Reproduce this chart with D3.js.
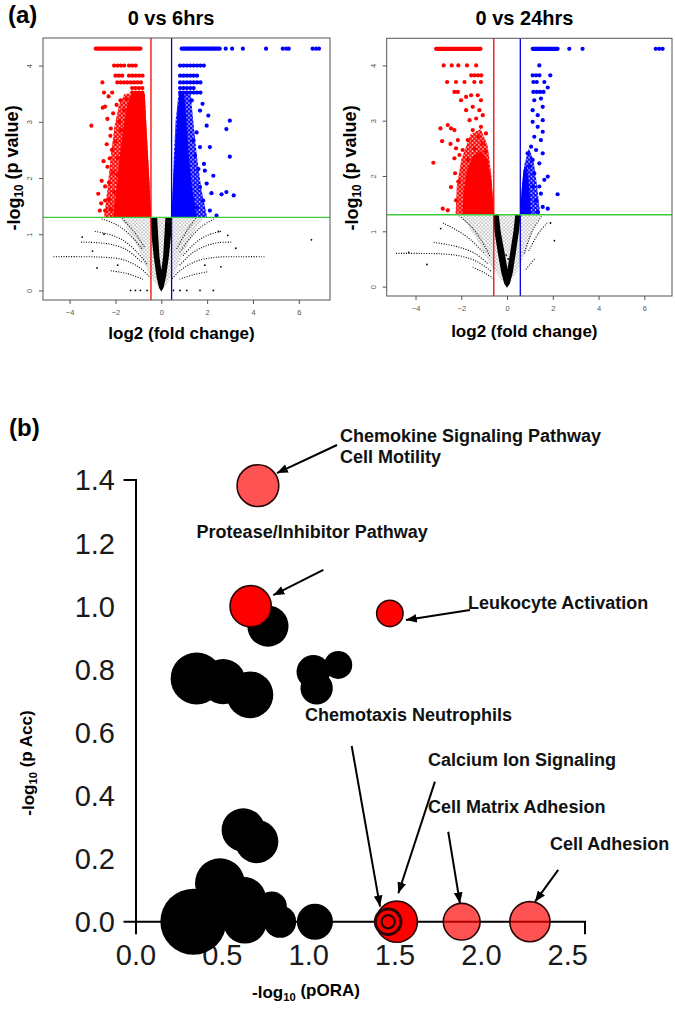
<!DOCTYPE html>
<html>
<head>
<meta charset="utf-8">
<script src="https://cdnjs.cloudflare.com/ajax/libs/d3/7.8.5/d3.min.js"></script>
<style>
  body { margin: 0; background: #fff; }
  svg { display: block; font-family: "Liberation Sans", Arial, sans-serif; }
</style>
</head>
<body>
<svg id="fig" width="675" height="1012"></svg>
<script>
// ---------- panel (a): volcano plots, values in (log2 FC, -log10 p) ----------
const pCut = 1.3;            // -log10(0.05)
const xTicksA = [-4, -2, 0, 2, 4, 6];
const yTicksA = [0, 1, 2, 3, 4];

// 0 vs 6hrs
const fc6 = 0.45;
const rows6 = [ // y, x from, x to, side
  [4.3, -2.86, -0.91, 'dn'], [4.3, 0.89, 2.55, 'up'],
  [4.0, -2.06, -1.56, 'dn'], [4.0, -1.41, -0.98, 'dn'], [4.0, 0.82, 1.9, 'up'],
  [3.82, -2.0, -1.6, 'dn'], [3.82, -1.41, -0.79, 'dn'], [3.82, 0.82, 1.69, 'up'],
  [3.7, -1.92, -1.75, 'dn'], [3.7, -1.63, -0.76, 'dn'], [3.7, 0.82, 1.83, 'up'],
  [3.6, -1.27, -0.76, 'dn'], [3.6, 0.82, 1.55, 'up'],
  [3.52, -1.27, -0.76, 'dn'], [3.52, 0.82, 1.83, 'up']
];
const redFringe6 = [[-0.45,1.3],[-2.5,1.3],[-2.35,1.8],[-2.2,2.4],[-2.05,2.9],[-1.85,3.3],[-1.6,3.5],[-0.72,3.5],[-0.66,3.0],[-0.58,2.4],[-0.5,1.8]];
const redCore6 = [[-0.45,1.3],[-2.1,1.3],[-1.95,1.8],[-1.8,2.4],[-1.65,2.9],[-1.48,3.3],[-1.3,3.5],[-0.72,3.5],[-0.66,3.0],[-0.58,2.4],[-0.5,1.8]];
const blueFringe6 = [[0.45,1.3],[2.0,1.3],[1.75,1.8],[1.55,2.4],[1.4,3.0],[1.28,3.5],[0.75,3.5],[0.62,3.0],[0.55,2.4],[0.5,1.8]];
const blueCore6 = [[0.45,1.3],[1.55,1.3],[1.35,1.8],[1.2,2.4],[1.1,3.0],[1.0,3.5],[0.78,3.5],[0.68,3.0],[0.58,2.4],[0.5,1.8]];
const halo6 = [[0,-0.02],[-0.6,0.35],[-1.0,0.75],[-1.4,1.05],[-1.8,1.3],[1.85,1.3],[1.45,1.05],[1.0,0.7],[0.6,0.33]];
const vee6 = [[-0.47,1.3],[-0.43,1.0],[-0.33,0.6],[-0.21,0.25],[-0.1,0.05],[0,-0.02],[0.1,0.05],[0.21,0.25],[0.33,0.6],[0.43,1.0],[0.47,1.3],[0.18,1.3],[0.14,1.0],[0.08,0.6],[0,0.36],[-0.08,0.6],[-0.14,1.0],[-0.18,1.3]];
const arcs6 = [
  [[-4.7,0.6],[-3.5,0.6],[-2.5,0.59],[-1.7,0.55],[-1.0,0.42],[-0.45,0.22]],
  [[-3.5,0.86],[-2.8,0.85],[-2.2,0.82],[-1.5,0.72],[-0.85,0.5]],
  [[-2.9,1.05],[-2.3,1.0],[-1.7,0.9],[-1.1,0.7],[-0.6,0.45]],
  [[-2.6,1.27],[-2.0,1.18],[-1.4,1.0],[-0.8,0.72]],
  [[-1.7,1.28],[-1.2,1.05],[-0.7,0.75]],
  [[-2.2,0.35],[-1.5,0.3],[-0.8,0.2]],
  [[4.5,0.6],[3.5,0.6],[2.4,0.59],[1.6,0.53],[0.9,0.38],[0.45,0.2]],
  [[3.05,0.86],[2.5,0.85],[2.0,0.8],[1.4,0.68],[0.8,0.45]],
  [[2.6,1.05],[2.0,0.98],[1.5,0.85],[0.95,0.62]],
  [[2.3,1.27],[1.8,1.15],[1.3,0.95],[0.8,0.68]],
  [[1.5,1.28],[1.1,1.05],[0.65,0.72]],
  [[2.0,0.33],[1.4,0.28],[0.8,0.2]]
];
const redPts6 = [[-2.57,3.7],[-2.5,3.52],[-2.14,3.52],[-3.05,2.93],[-2.55,3.25],[-2.45,3.27],[-2.3,3.45],[-2.35,3.05],[-2.2,2.88],[-2.1,3.15],[-1.95,3.3],[-2.6,1.95],[-2.75,1.72],[-2.62,1.55],[-2.45,1.85],[-2.35,2.2],[-2.38,2.6],[-2.22,2.75],[-2.52,2.3],[-2.68,1.42],[-2.45,1.42],[-2.3,1.62],[-2.15,2.5],[-2.0,2.65],[-2.1,2.1],[-2.28,1.92],[-1.85,3.0],[-1.78,3.38],[-2.45,1.6],[-2.2,1.45],[-2.05,1.75],[-1.9,2.35],[-1.75,2.85],[-2.0,1.5],[-1.9,2.05],[-1.62,3.2],[-1.5,3.4],[-2.25,2.35]];
const bluePts6 = [[2.81,4.3],[3.09,4.3],[3.56,4.3],[4.57,4.3],[5.3,4.3],[5.45,4.3],[5.56,4.3],[6.6,4.3],[6.75,4.3],[6.88,4.3],[2.05,3.11],[1.98,2.93],[2.99,3.02],[2.84,2.87],[2.99,2.38],[2.12,2.55],[1.69,2.55],[2.27,2.04],[1.86,2.25],[2.19,1.73],[2.63,1.71],[2.84,1.75],[3.16,1.69],[2.41,1.33],[2.12,1.42],[1.83,1.6],[1.62,2.16],[1.47,2.4],[1.4,2.67],[1.54,2.81],[1.69,3.2],[1.33,3.38],[1.8,3.32],[1.98,1.9],[1.69,1.84],[1.54,1.48],[1.9,2.13]];
const blackPts6 = [[-1.34,0],[-1.13,0],[-0.91,0],[-0.62,0],[0.53,0],[0.82,0],[1.11,0],[1.69,0],[2.27,0],[6.55,0.9],[-3.45,0.95],[-3.0,0.7],[2.9,0.98],[3.25,0.75],[-2.5,1.0],[2.5,1.05],[-1.9,0.45],[1.9,0.45],[-2.8,0.4],[2.6,0.42]];

// 0 vs 24hrs
const fc24 = 0.58;
const rows24 = [
  [4.3, -3.1, -1.16, 'dn'], [4.3, 1.12, 2.21, 'up'],
  [3.82, -1.57, -1.06, 'dn'], [3.82, 1.12, 1.48, 'up'],
  [3.7, 1.15, 1.33, 'up'],
  [3.52, -2.3, -2.08, 'dn'], [3.52, 1.15, 1.63, 'up']
];
const redFringe24 = [[-0.58,1.3],[-2.25,1.3],[-2.2,1.8],[-2.0,2.3],[-1.6,2.75],[-1.15,2.85],[-0.85,2.55],[-0.68,2.0]];
const redCore24 = [[-0.58,1.3],[-1.95,1.3],[-1.9,1.7],[-1.75,2.1],[-1.5,2.35],[-1.15,2.45],[-0.85,2.3],[-0.68,1.9],[-0.62,1.6]];
const blueFringe24 = [[0.58,1.3],[1.45,1.3],[1.32,1.8],[1.15,2.3],[0.95,2.5],[0.75,2.2],[0.65,1.8]];
const blueCore24 = [[0.58,1.3],[1.05,1.3],[0.98,1.7],[0.92,2.0],[0.85,2.2],[0.72,2.1],[0.65,1.8],[0.6,1.5]];
const halo24 = [[0,-0.02],[-0.75,0.4],[-1.25,0.8],[-1.7,1.1],[-2.05,1.3],[1.45,1.3],[1.1,1.0],[0.85,0.65],[0.45,0.28]];
const vee24 = [[-0.62,1.3],[-0.55,1.0],[-0.4,0.6],[-0.25,0.25],[-0.12,0.05],[0,-0.02],[0.12,0.05],[0.25,0.25],[0.38,0.6],[0.52,1.0],[0.6,1.3],[0.36,1.3],[0.28,1.0],[0.13,0.6],[0.02,0.32],[-0.1,0.6],[-0.28,1.0],[-0.36,1.3]];
const arcs24 = [
  [[-4.85,0.6],[-3.8,0.6],[-2.8,0.59],[-2.0,0.55],[-1.3,0.45],[-0.7,0.28]],
  [[-3.2,0.8],[-2.6,0.76],[-2.0,0.7],[-1.4,0.6],[-0.85,0.42]],
  [[-2.8,1.15],[-2.2,1.02],[-1.6,0.85],[-1.0,0.6]],
  [[-2.1,1.28],[-1.6,1.1],[-1.1,0.82],[-0.75,0.55]],
  [[-1.5,0.35],[-1.0,0.25],[-0.6,0.15]],
  [[1.75,1.15],[1.35,0.95],[0.95,0.65]],
  [[1.5,1.27],[1.1,1.0],[0.75,0.6]],
  [[1.2,0.5],[0.8,0.3]]
];
const redPts24 = [[-2.77,4.0],[-2.42,4.0],[-2.13,4.0],[-1.75,4.0],[-1.35,4.0],[-2.62,3.7],[-2.23,3.7],[-1.86,3.7],[-1.43,3.7],[-1.14,3.7],[-3.22,2.24],[-2.91,2.86],[-2.59,2.92],[-2.45,2.86],[-2.3,2.83],[-2.84,2.63],[-2.47,2.58],[-2.15,2.65],[-2.23,2.5],[-2.08,2.38],[-2.3,2.32],[-2.27,2.05],[-2.13,1.9],[-2.45,1.8],[-2.81,1.41],[-2.59,1.38],[-2.23,1.56],[-2.01,3.37],[-1.79,3.43],[-1.57,3.46],[-1.28,3.46],[-1.14,3.37],[-1.79,3.19],[-1.5,3.25],[-1.21,3.19],[-1.64,3.01],[-1.35,3.04],[-1.06,3.1],[-1.5,2.83],[-1.14,2.89],[-0.92,2.77],[-1.72,2.65],[-1.28,2.71],[-1.06,2.59],[-1.43,2.5],[-1.94,2.47],[-0.92,2.44],[-1.72,2.29],[-1.28,2.35]];
const bluePts24 = [[2.72,4.3],[3.3,4.3],[6.5,4.3],[6.65,4.3],[6.8,4.3],[1.41,4.0],[1.89,3.82],[1.63,3.7],[1.78,3.6],[1.19,3.37],[1.48,3.4],[1.56,3.25],[1.12,3.19],[1.34,3.1],[1.56,3.01],[1.12,2.98],[1.34,2.89],[1.56,2.8],[1.19,2.71],[1.48,2.65],[1.05,2.53],[1.27,2.47],[1.56,2.41],[0.9,2.41],[1.12,2.29],[1.41,2.23],[0.98,2.17],[1.19,2.05],[1.78,1.99],[1.63,1.93],[1.41,1.81],[1.48,1.68],[2.21,1.67],[1.27,1.56],[1.56,1.44],[1.78,1.41],[1.34,1.35],[1.12,1.81]];
const blackPts24 = [[2.07,0.83],[1.9,1.15],[-3.5,0.4],[-2.9,1.05],[-0.04,0.57],[0.05,0.5],[-4.3,0.62]];

// ---------- panel (b): bubbles (-log10 pORA, -log10 pAcc, size) ----------
const bubX    = [0.332,0.486,0.621,0.631,0.786,0.834,1.036,0.621,0.699,0.351,0.504,0.66,0.764,1.027,1.171,1.046, 0.664,1.47,1.51, 1.46,1.46, 0.706,1.886,2.281];
const bubY    = [0,0.122,0.069,0,0.048,0,0,0.291,0.254,0.771,0.761,0.719,0.937,0.792,0.814,0.74, 1.0,0.977,0, 0,0, 1.382,0,0];
const bubSize = [100,57,49,44,21,24,30,43,43,62,47,50,39,26,18,24, 39,16,39, 15,4, 40,31,37];
const bubKind = ['ns','ns','ns','ns','ns','ns','ns','ns','ns','ns','ns','ns','ns','ns','ns','ns', 'sig','sig','sig', 'ring','ring', 'top','top','top'];
const xTicksB = [0, 0.5, 1.0, 1.5, 2.0, 2.5];
const yTicksB = [0, 0.2, 0.4, 0.6, 0.8, 1.0, 1.2, 1.4];

const notes = [ // label lines, anchor in axis units
  { text: 'Chemokine Signaling Pathway', x: 1.181, y: 1.522 },
  { text: 'Cell Motility', x: 1.181, y: 1.454 },
  { text: 'Protease/Inhibitor Pathway', x: 0.351, y: 1.216 },
  { text: 'Leukocyte Activation', x: 1.922, y: 0.990 },
  { text: 'Chemotaxis Neutrophils', x: 0.979, y: 0.635 },
  { text: 'Calcium Ion Signaling', x: 1.691, y: 0.492 },
  { text: 'Cell Matrix Adhesion', x: 1.691, y: 0.345 },
  { text: 'Cell Adhesion', x: 2.397, y: 0.227 }
];
const arrows = [ // tail -> head in axis units
  [[1.164,1.511],[0.816,1.422]],
  [[1.085,1.115],[0.795,1.035]],
  [[1.934,0.988],[1.563,0.956]],
  [[1.249,0.557],[1.413,0.048]],
  [[1.731,0.444],[1.519,0.09]],
  [[1.808,0.285],[1.876,0.058]],
  [[2.445,0.164],[2.31,0.063]]
];

const svg = d3.select('#fig');
const defs = svg.append('defs');

// speckle fills standing in for dense point clouds
function speckle(id, color, step, r) {
  const p = defs.append('pattern').attr('id', id).attr('patternUnits', 'userSpaceOnUse')
    .attr('width', step).attr('height', step);
  [[0, 0], [step, 0], [0, step], [step, step], [step / 2, step / 2]].forEach(c => {
    p.append('circle').attr('cx', c[0]).attr('cy', c[1]).attr('r', r).attr('fill', color);
  });
}
speckle('spRed', '#ff0000', 4.2, 1.55);
speckle('spBlue', '#0000ff', 4.2, 1.55);
speckle('spBlack', '#000', 3.6, 0.5);

// "-log10" with subscript
function logLabel(sel, rest) {
  sel.append('tspan').text('-log');
  sel.append('tspan').attr('font-size', '66%').attr('dy', '0.3em').text('10');
  sel.append('tspan').attr('dy', '-0.3em').text(rest);
}

function drawVolcano(set, box) {
  const g = svg.append('g');
  const x = d3.scaleLinear().domain(set.xDom).range([box.l, box.r]);
  const y = d3.scaleLinear().domain([-0.17, 4.49]).range([box.b, box.t]);
  const poly = d3.line().x(p => x(p[0])).y(p => y(p[1]));
  const arc = d3.line().x(p => x(p[0])).y(p => y(p[1])).curve(d3.curveCatmullRom);

  g.append('path').attr('d', poly(set.halo) + 'Z').attr('fill', 'url(#spBlack)');
  set.arcs.forEach(a => {
    g.append('path').attr('d', arc(a)).attr('fill', 'none')
      .attr('stroke', '#000').attr('stroke-width', 1.1).attr('stroke-dasharray', '1 1.5');
  });
  g.append('path').attr('d', poly(set.vee) + 'Z').attr('fill', '#000');
  g.selectAll('.bk').data(set.black).enter().append('circle')
    .attr('cx', d => x(d[0])).attr('cy', d => y(d[1])).attr('r', 0.9).attr('fill', '#000');

  g.append('path').attr('d', poly(set.redFringe) + 'Z').attr('fill', 'url(#spRed)');
  g.append('path').attr('d', poly(set.redCore) + 'Z').attr('fill', '#ff0000');
  g.append('path').attr('d', poly(set.blueFringe) + 'Z').attr('fill', 'url(#spBlue)');
  g.append('path').attr('d', poly(set.blueCore) + 'Z').attr('fill', '#0000ff');

  g.selectAll('.row').data(set.rows).enter().append('line')
    .attr('x1', d => x(d[1])).attr('x2', d => x(d[2]))
    .attr('y1', d => y(d[0])).attr('y2', d => y(d[0]))
    .attr('stroke', d => d[3] === 'dn' ? '#ff0000' : '#0000ff')
    .attr('stroke-width', 4.2).attr('stroke-linecap', 'round')
    .attr('stroke-dasharray', d => d[0] > 4.2 ? null : '0 3.4');
  g.selectAll('.rp').data(set.red).enter().append('circle')
    .attr('cx', d => x(d[0])).attr('cy', d => y(d[1])).attr('r', 2.1).attr('fill', '#ff0000');
  g.selectAll('.bp').data(set.blue).enter().append('circle')
    .attr('cx', d => x(d[0])).attr('cy', d => y(d[1])).attr('r', 2.1).attr('fill', '#0000ff');

  // thresholds
  g.append('line').attr('x1', x(-set.fc)).attr('x2', x(-set.fc)).attr('y1', box.t).attr('y2', box.b)
    .attr('stroke', '#ff0000').attr('stroke-width', 1.3);
  g.append('line').attr('x1', x(set.fc)).attr('x2', x(set.fc)).attr('y1', box.t).attr('y2', box.b)
    .attr('stroke', '#0000dd').attr('stroke-width', 1.3);
  g.append('line').attr('x1', box.l).attr('x2', box.r).attr('y1', y(pCut)).attr('y2', y(pCut))
    .attr('stroke', '#3ccc3c').attr('stroke-width', 1.4);

  // axes
  const ax = g.append('g').attr('transform', `translate(0,${box.b})`)
    .call(d3.axisBottom(x).tickValues(xTicksA).tickSize(4).tickPadding(6).tickFormat(d3.format('d')));
  const ay = g.append('g').attr('transform', `translate(${box.l},0)`)
    .call(d3.axisLeft(y).tickValues(yTicksA).tickSize(4).tickFormat(d3.format('d')));
  [ax, ay].forEach(a => {
    a.select('.domain').remove();
    a.selectAll('line').attr('stroke', '#555');
    a.selectAll('text').attr('fill', '#555').attr('font-size', 7.5).attr('font-family', 'Liberation Sans, Arial, sans-serif');
  });
  ay.selectAll('text').attr('transform', 'rotate(-90)').attr('text-anchor', 'middle')
    .attr('x', 0).attr('y', -11).attr('dy', 0);
  g.append('rect').attr('x', box.l).attr('y', box.t).attr('width', box.r - box.l).attr('height', box.b - box.t)
    .attr('fill', 'none').attr('stroke', '#555').attr('stroke-width', 1);

  // titles
  g.append('text').attr('x', set.titleX).attr('y', 25).attr('text-anchor', 'middle')
    .attr('font-size', 20).attr('font-weight', 'bold').text(set.title);
  g.append('text').attr('x', (box.l + box.r) / 2 - 5).attr('y', set.xLabY).attr('text-anchor', 'middle')
    .attr('font-size', 17).attr('font-weight', 'bold').text('log2 (fold change)');
  const yl = g.append('text').attr('transform', `translate(${set.yLabX},168) rotate(-90)`)
    .attr('text-anchor', 'middle').attr('font-size', 18).attr('font-weight', 'bold');
  logLabel(yl, ' (p value)');
}

drawVolcano({
  xDom: [-5.16, 7.36], fc: fc6, title: '0 vs 6hrs', titleX: 171, xLabY: 338.5, yLabX: 19.5,
  rows: rows6, redFringe: redFringe6, redCore: redCore6, blueFringe: blueFringe6, blueCore: blueCore6,
  halo: halo6, vee: vee6, arcs: arcs6, red: redPts6, blue: bluePts6, black: blackPts6
}, { l: 43, r: 330, t: 38, b: 300 });

drawVolcano({
  xDom: [-5.26, 7.21], fc: fc24, title: '0 vs 24hrs', titleX: 524.5, xLabY: 337, yLabX: 357.5,
  rows: rows24, redFringe: redFringe24, redCore: redCore24, blueFringe: blueFringe24, blueCore: blueCore24,
  halo: halo24, vee: vee24, arcs: arcs24, red: redPts24, blue: bluePts24, black: blackPts24
}, { l: 386.7, r: 672, t: 38.3, b: 296 });

svg.append('text').attr('x', 8).attr('y', 23).attr('font-size', 24).attr('font-weight', 'bold').text('(a)');
svg.append('text').attr('x', 9).attr('y', 436).attr('font-size', 24).attr('font-weight', 'bold').text('(b)');

// ---------- panel (b) ----------
const gb = svg.append('g');
const xb = d3.scaleLinear().domain([0, 2.6]).range([136, 585]);
const yb = d3.scaleLinear().domain([0, 1.4]).range([921.7, 480]);
const rb = d3.scaleSqrt().domain([0, 100]).range([0, 33]);
const tick = 12.5;

// axes: lines with end ticks only
gb.append('path')
  .attr('d', `M${xb(0) - tick},${yb(1.4)}H${xb(0)}V${yb(0) + tick}`)
  .attr('fill', 'none').attr('stroke', '#000').attr('stroke-width', 2);
gb.append('path')
  .attr('d', `M${xb(0) - tick},${yb(0)}H${xb(2.6)}V${yb(0) + tick}`)
  .attr('fill', 'none').attr('stroke', '#000').attr('stroke-width', 2);

gb.selectAll('.xt').data(xTicksB).enter().append('text')
  .attr('x', d => xb(d)).attr('y', 965).attr('text-anchor', 'middle')
  .attr('font-size', 29).attr('fill', '#1a1a1a').text(d => d3.format('.1f')(d));
gb.selectAll('.yt').data(yTicksB).enter().append('text')
  .attr('x', 115).attr('y', d => yb(d) + 10.4).attr('text-anchor', 'end')
  .attr('font-size', 29).attr('fill', '#1a1a1a').text(d => d3.format('.1f')(d));

const xl = gb.append('text').attr('x', 306).attr('y', 998).attr('text-anchor', 'middle')
  .attr('font-size', 17).attr('font-weight', 'bold');
logLabel(xl, ' (pORA)');
const ylb = gb.append('text').attr('transform', 'translate(33.5,763) rotate(-90)').attr('text-anchor', 'middle')
  .attr('font-size', 17).attr('font-weight', 'bold');
logLabel(ylb, ' (p Acc)');

// bubbles
const bubbles = bubX.map((v, i) => ({ x: v, y: bubY[i], s: bubSize[i], k: bubKind[i] }));
gb.selectAll('.bub').data(bubbles).enter().append('circle')
  .attr('cx', d => xb(d.x)).attr('cy', d => yb(d.y)).attr('r', d => rb(d.s))
  .attr('fill', d => d.k === 'ns' ? '#000' : '#ff0000')
  .attr('fill-opacity', d => d.k === 'top' ? 0.68 : 1)
  .attr('stroke', d => d.k === 'ns' ? 'none' : '#2a0505')
  .attr('stroke-width', d => d.k === 'ring' ? (d.s > 10 ? 3 : 2.2) : 1.6);

// annotations
defs.append('marker').attr('id', 'ah')
  .attr('viewBox', '0 0 10 8').attr('refX', 10).attr('refY', 4)
  .attr('markerWidth', 11).attr('markerHeight', 9).attr('markerUnits', 'userSpaceOnUse')
  .attr('orient', 'auto')
  .append('path').attr('d', 'M0,0L10,4L0,8Z').attr('fill', '#000');

arrows.forEach(a => {
  gb.append('line')
    .attr('x1', xb(a[0][0])).attr('y1', yb(a[0][1]))
    .attr('x2', xb(a[1][0])).attr('y2', yb(a[1][1]))
    .attr('stroke', '#000').attr('stroke-width', 2).attr('marker-end', 'url(#ah)');
});
gb.selectAll('.note').data(notes).enter().append('text')
  .attr('x', d => xb(d.x)).attr('y', d => yb(d.y))
  .attr('font-size', 18).attr('font-weight', 'bold').attr('fill', '#111').text(d => d.text);
</script>
</body>
</html>
